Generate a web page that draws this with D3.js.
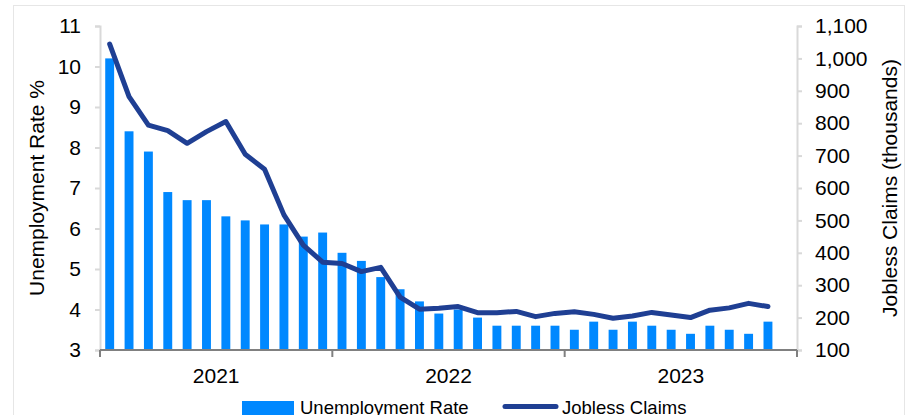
<!DOCTYPE html>
<html>
<head>
<meta charset="utf-8">
<script src="https://cdn.jsdelivr.net/npm/d3@7"></script>
<style>
  body { margin: 0; background: #fff; }
  text { font-family: "Liberation Sans", Arial, sans-serif; fill: #000; }
</style>
</head>
<body>
<svg width="908" height="415"></svg>
<script>
// months Jul 2020 .. Jun 2023 (last slot has no data)
var months = [
  'Jul 20', 'Aug 20', 'Sep 20', 'Oct 20', 'Nov 20', 'Dec 20',
  'Jan 21', 'Feb 21', 'Mar 21', 'Apr 21', 'May 21', 'Jun 21',
  'Jul 21', 'Aug 21', 'Sep 21', 'Oct 21', 'Nov 21', 'Dec 21',
  'Jan 22', 'Feb 22', 'Mar 22', 'Apr 22', 'May 22', 'Jun 22',
  'Jul 22', 'Aug 22', 'Sep 22', 'Oct 22', 'Nov 22', 'Dec 22',
  'Jan 23', 'Feb 23', 'Mar 23', 'Apr 23', 'May 23', 'Jun 23'
];

var unemployment = [
  10.2, 8.4, 7.9, 6.9, 6.7, 6.7, 6.3, 6.2, 6.1, 6.1, 5.8, 5.9,
  5.4, 5.2, 4.8, 4.5, 4.2, 3.9, 4.0, 3.8, 3.6, 3.6, 3.6, 3.6,
  3.5, 3.7, 3.5, 3.7, 3.6, 3.5, 3.4, 3.6, 3.5, 3.4, 3.7
];

var claims = [
  1044, 882, 794, 777, 738, 774, 805, 704, 658, 517, 424, 371,
  367, 342, 355, 263, 226, 229, 234, 215, 215, 219, 203, 213,
  218, 210, 198, 205, 216, 208, 200, 223, 230, 244, 234
];

var years = ['2021', '2022', '2023'];
var leftTicks = [3, 4, 5, 6, 7, 8, 9, 10, 11];
var rightTicks = [100, 200, 300, 400, 500, 600, 700, 800, 900, 1000, 1100];

var plotLeft = 100, plotRight = 797, plotTop = 26, plotBottom = 350;
var barColor = '#0088ff';
var lineColor = '#1f3f93';

var svg = d3.select('svg');

// outer frame
svg.append('rect')
   .attr('x', 13.5).attr('y', 5.5)
   .attr('width', 891).attr('height', 420)
   .attr('fill', 'none')
   .attr('stroke', '#e6e6e6');

var x = d3.scaleBand().domain(months).range([plotLeft, plotRight]).padding(0);
var yL = d3.scaleLinear().domain([3, 11]).range([plotBottom, plotTop]);
var yR = d3.scaleLinear().domain([100, 1100]).range([plotBottom, plotTop]);

// left axis
var gl = svg.append('g')
   .attr('transform', 'translate(' + plotLeft + ',0)')
   .call(d3.axisLeft(yL).tickValues(leftTicks).tickSize(5).tickPadding(14));
gl.select('.domain').attr('stroke', '#d9d9d9').attr('stroke-width', 2);
gl.selectAll('.tick line').attr('stroke', '#d9d9d9').attr('stroke-width', 2);
gl.selectAll('.tick text').attr('font-size', 21).attr('font-family', 'Liberation Sans, Arial');

// right axis
var gr = svg.append('g')
   .attr('transform', 'translate(' + plotRight + ',0)')
   .call(d3.axisRight(yR).tickValues(rightTicks).tickSize(5).tickPadding(13)
     .tickFormat(d3.format(',')));
gr.select('.domain').attr('stroke', '#d9d9d9').attr('stroke-width', 2);
gr.selectAll('.tick line').attr('stroke', '#d9d9d9').attr('stroke-width', 2);
gr.selectAll('.tick text').attr('font-size', 21).attr('font-family', 'Liberation Sans, Arial');

// bars
var bw = x.bandwidth() * 0.46;
svg.selectAll('rect.bar')
   .data(unemployment)
   .enter()
   .append('rect')
   .attr('class', 'bar')
   .attr('fill', barColor)
   .attr('x', function (d, i) { return x(months[i]) + (x.bandwidth() - bw) / 2; })
   .attr('width', bw)
   .attr('y', function (d) { return yL(d); })
   .attr('height', function (d) { return plotBottom - yL(d); });

// bottom axis
svg.append('line')
   .attr('x1', plotLeft).attr('x2', plotRight)
   .attr('y1', plotBottom).attr('y2', plotBottom)
   .attr('stroke', '#808080').attr('stroke-width', 2);

for (var i = 0; i <= years.length; i++) {
  var xi = i < years.length ? x(months[i * 12]) : plotRight;
  svg.append('line')
     .attr('x1', xi).attr('x2', xi)
     .attr('y1', plotBottom).attr('y2', plotBottom + 7)
     .attr('stroke', '#808080').attr('stroke-width', 2);
}

for (var i = 0; i < years.length; i++) {
  var x0 = x(months[i * 12]);
  var x1 = i + 1 < years.length ? x(months[(i + 1) * 12]) : plotRight;
  svg.append('text')
     .attr('x', (x0 + x1) / 2)
     .attr('y', 383)
     .attr('text-anchor', 'middle')
     .attr('font-size', 21)
     .text(years[i]);
}

// jobless claims line
var line = d3.line()
   .x(function (d, i) { return x(months[i]) + x.bandwidth() / 2; })
   .y(function (d) { return yR(d); });

svg.append('path')
   .datum(claims)
   .attr('d', line)
   .attr('fill', 'none')
   .attr('stroke', lineColor)
   .attr('stroke-width', 5)
   .attr('stroke-linejoin', 'round')
   .attr('stroke-linecap', 'round');

// axis titles
svg.append('text')
   .attr('transform', 'translate(44,188) rotate(-90)')
   .attr('text-anchor', 'middle')
   .attr('font-size', 21)
   .text('Unemployment Rate %');

svg.append('text')
   .attr('transform', 'translate(897,188) rotate(-90)')
   .attr('text-anchor', 'middle')
   .attr('font-size', 21)
   .text('Jobless Claims (thousands)');

// legend
svg.append('rect')
   .attr('x', 242).attr('y', 401)
   .attr('width', 52).attr('height', 14)
   .attr('fill', barColor);
svg.append('text')
   .attr('x', 300).attr('y', 414)
   .attr('font-size', 18.5)
   .text('Unemployment Rate');

svg.append('line')
   .attr('x1', 505).attr('x2', 556)
   .attr('y1', 406.5).attr('y2', 406.5)
   .attr('stroke', lineColor)
   .attr('stroke-width', 5)
   .attr('stroke-linecap', 'round');
svg.append('text')
   .attr('x', 562).attr('y', 414)
   .attr('font-size', 18.5)
   .text('Jobless Claims');
</script>
</body>
</html>
